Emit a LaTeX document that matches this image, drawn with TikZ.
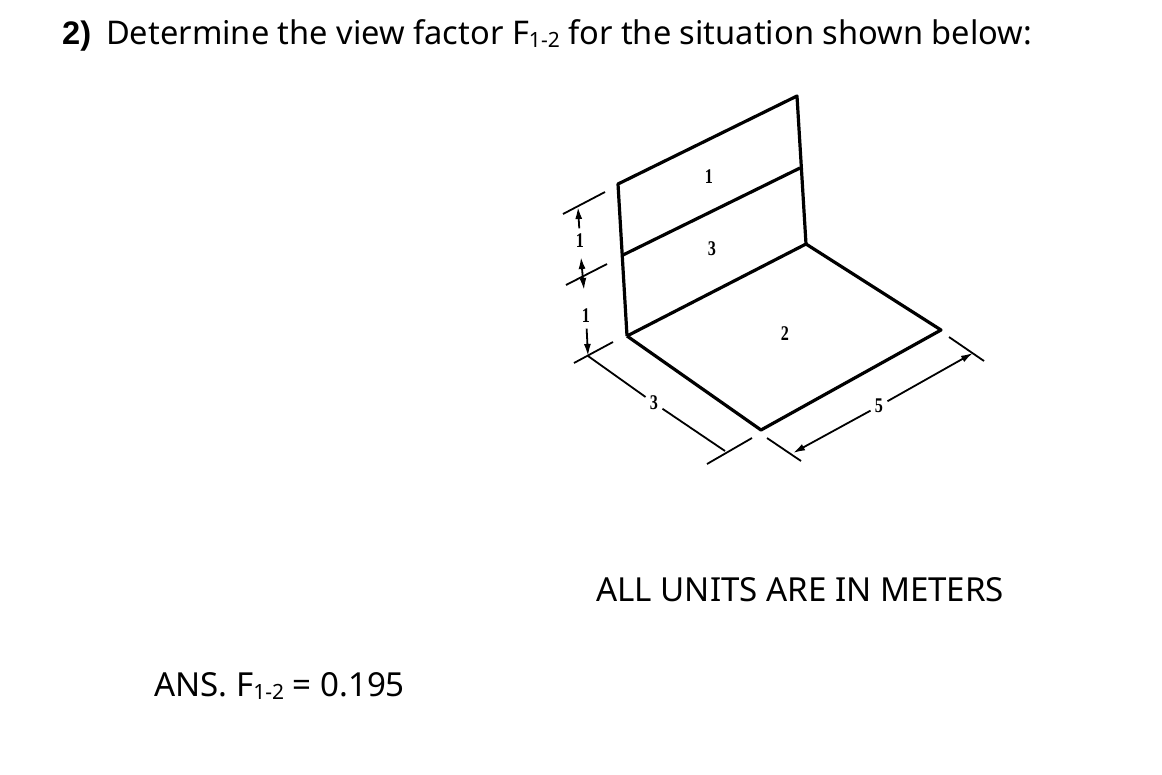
\documentclass[tikz,border=0pt]{standalone}
\usepackage{fontspec}
\usetikzlibrary{arrows.meta}
\setmainfont{Noto Sans}
\newfontfamily\labelfont{Liberation Serif}
\newfontfamily\numfont{Liberation Sans}
\newcommand{\subnum}{\raisebox{-3pt}{\fontsize{21}{21}\selectfont 1-2}}
\tikzset{
	wall/.style={line width=3.2pt, line join=round},
	thin dim/.style={line width=1.8pt},
	dimtip/.style={-{Latex[length=12pt,width=7pt]}},
	dim label/.style={font=\labelfont\bfseries\fontsize{19}{19}\selectfont, inner sep=5pt, xscale=.85, yscale=1.1},
	txt/.style={font=\fontsize{32.6}{36}\selectfont, anchor=base west, inner sep=0pt},
	txt wide/.style={txt, font=\fontsize{33.1}{36}\selectfont},
}
\begin{document}
\begin{tikzpicture}[x=1pt,y=-1pt]
		\useasboundingbox (0,0) rectangle (1162,774);
		
		\node[txt] (num) at (62,44) {\numfont\bfseries 2)};
		\node[txt] (title) at (106,44) {Determine the view factor F\subnum{} for the situation shown below:};
		\node[txt wide] (units) at (596,601) {ALL UNITS ARE IN METERS};
		\node[txt wide] (answer) at (154,696) {ANS. F\subnum{} = 0.195};
		
		\coordinate (topL) at (618,184); \coordinate (topR) at (797,96);
		\coordinate (midL) at (623,255); \coordinate (midR) at (800,168);
		\coordinate (botL) at (627,336); \coordinate (botR) at (806,244);
		\coordinate (floorR) at (941,330); \coordinate (floorB) at (761,430);
		
		\draw[wall] (botL) -- (topL) -- (topR) -- (botR) -- (botL);
		\draw[wall] (midL) -- (midR);
		\draw[wall] (botL) -- (floorB) -- (floorR) -- (botR);
		
		\node[dim label] (one) at (709,177) {1};
		\node[dim label] (three) at (712,249) {3};
		\node[dim label] (two) at (785,334) {2};
		
		% ticks
		\coordinate (tickAa) at (563,214); \coordinate (tickAb) at (605,192);
		\coordinate (tickBa) at (566,285); \coordinate (tickBb) at (607,264);
		\coordinate (tickCa) at (574,363); \coordinate (tickCb) at (613,342);
		\coordinate (tickDa) at (707,464); \coordinate (tickDb) at (752,438);
		\coordinate (tickEa) at (767,438); \coordinate (tickEb) at (801,461);
		\coordinate (tickFa) at (949,337); \coordinate (tickFb) at (984,361);
		\foreach \t in {A,B,C,D,E,F} \draw[thin dim] (tick\t a) -- (tick\t b);
		
		% height dimensions
		\coordinate (hA) at (578,207); \coordinate (hB) at (581,257); \coordinate (hC) at (588,356);
		\coordinate (hD) at (584,290); \coordinate (hM) at (582.5,274);
		\node[dim label] (hOne) at (580,241) {1};
		\node[dim label] (hTwo) at (586,316) {1};
		\draw[thin dim,dimtip] (hOne) -- (hA);
		\draw[thin dim,dimtip] (hM) -- (hB);
		\draw[thin dim,dimtip] (hM) -- (hD);
		\draw[thin dim,dimtip] (hTwo) -- (hC);
		
		% floor dimensions
		\coordinate (dA) at (725,451); \coordinate (eA) at (793,453); \coordinate (eB) at (973,353);
		\node[dim label] (depth) at (654,403) {3};
		\node[dim label] (width) at (879,406) {5};
		\draw[thin dim] (hC) -- (depth);
		\draw[thin dim] (depth) -- (dA);
		\draw[thin dim,dimtip] (width) -- (eA);
		\draw[thin dim,dimtip] (width) -- (eB);
		\end{tikzpicture}
\end{document}
